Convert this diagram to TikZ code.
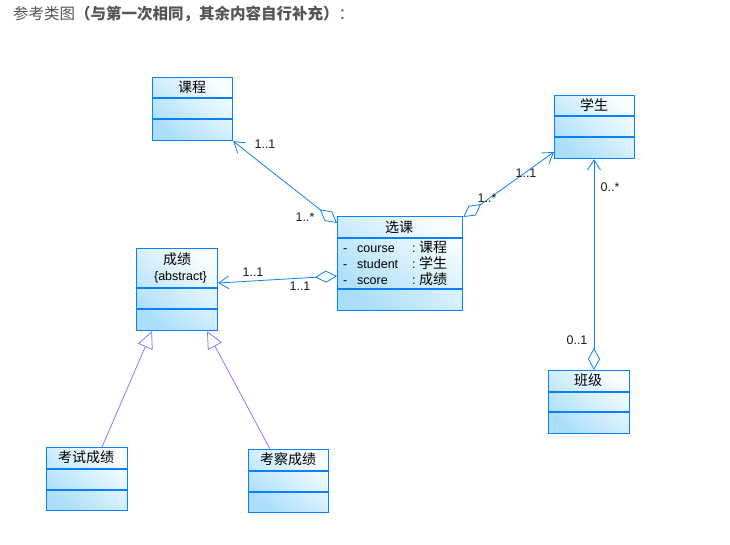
\documentclass[tikz,border=0pt]{standalone}
\usepackage{fontspec}
\setmainfont{Liberation Sans}
\newfontfamily\cjk{Noto Sans CJK SC}
\usetikzlibrary{arrows.meta}
\definecolor{bd}{HTML}{0A80FF}
\definecolor{fla}{HTML}{F8FDFF}
\definecolor{flb}{HTML}{AADEFA}
\definecolor{gen}{HTML}{8080FF}
\definecolor{lbl}{HTML}{1A1A1A}
\definecolor{ttl}{HTML}{555555}
\begin{document}
\begin{tikzpicture}[x=1pt,y=-1pt,
  cls/.style={draw=bd, line width=1.2pt, left color=fla, right color=flb, shading angle=-40,
    inner sep=0pt, anchor=north west},
  sepline/.style={draw=bd, line width=1.2pt},
  hdr/.style={inner sep=0pt, font=\cjk\fontsize{14}{16}\selectfont, text=black},
  attr/.style={inner sep=0pt, anchor=west, font=\fontsize{12.5}{14}\selectfont, text=black},
  mult/.style={inner sep=0pt, font=\fontsize{12.5}{14}\selectfont, text=lbl},
  assoc/.style={draw=bd, line width=0.8pt},
  genl/.style={draw=gen, line width=0.8pt},
  dia/.tip={Diamond[open, length=22pt, width=12pt, line width=0.8pt]},
  barb/.tip={Straight Barb[length=10pt, width=13pt, line width=0.8pt]},
  tri/.tip={Triangle[open, length=17pt, width=16pt, line width=0.8pt]}]
\useasboundingbox (0,0) rectangle (730,545);
\fill[white] (0,0) rectangle (730,545);

% title
\node[anchor=west, inner sep=0pt, text=ttl, font=\cjk\fontsize{15.5}{17}\selectfont] (title) at (13,14)
  {参考类图\textbf{（与第一次相同，其余内容自行补充）}：};

% classes
\node[cls, minimum width=80pt, minimum height=63pt] (kc) at (152,77) {};
\draw[sepline] ([yshift=-21pt]kc.north west) -- ([yshift=-21pt]kc.north east);
\draw[sepline] ([yshift=-42pt]kc.north west) -- ([yshift=-42pt]kc.north east);
\node[hdr] (kct) at (192,87) {课程};

\node[cls, minimum width=80pt, minimum height=63pt] (xs) at (554,95) {};
\draw[sepline] ([yshift=-21pt]xs.north west) -- ([yshift=-21pt]xs.north east);
\draw[sepline] ([yshift=-42pt]xs.north west) -- ([yshift=-42pt]xs.north east);
\node[hdr] (xst) at (594,105) {学生};

\node[cls, minimum width=125pt, minimum height=94pt] (xk) at (337,216) {};
\draw[sepline] ([yshift=-22pt]xk.north west) -- ([yshift=-22pt]xk.north east);
\draw[sepline] ([yshift=-73pt]xk.north west) -- ([yshift=-73pt]xk.north east);
\node[hdr] (xkt) at (399,227) {选课};
\node[attr] (a1) at (343,247) {\makebox[14pt][l]{-}\makebox[55pt][l]{course}\makebox[7pt][l]{:}{\cjk\fontsize{14}{16}\selectfont 课程}};
\node[attr] (a2) at (343,263) {\makebox[14pt][l]{-}\makebox[55pt][l]{student}\makebox[7pt][l]{:}{\cjk\fontsize{14}{16}\selectfont 学生}};
\node[attr] (a3) at (343,279) {\makebox[14pt][l]{-}\makebox[55pt][l]{score}\makebox[7pt][l]{:}{\cjk\fontsize{14}{16}\selectfont 成绩}};

\node[cls, minimum width=81pt, minimum height=82pt] (cj) at (136,248) {};
\draw[sepline] ([yshift=-40pt]cj.north west) -- ([yshift=-40pt]cj.north east);
\draw[sepline] ([yshift=-61pt]cj.north west) -- ([yshift=-61pt]cj.north east);
\node[hdr] (cjt) at (177,259) {成绩};
\node[inner sep=0pt, font=\fontsize{12.5}{14}\selectfont] (abs) at (180.5,277) {\{abstract\}};

\node[cls, minimum width=81pt, minimum height=63pt] (bj) at (548,370) {};
\draw[sepline] ([yshift=-22pt]bj.north west) -- ([yshift=-22pt]bj.north east);
\draw[sepline] ([yshift=-42pt]bj.north west) -- ([yshift=-42pt]bj.north east);
\node[hdr] (bjt) at (588,380) {班级};

\node[cls, minimum width=81pt, minimum height=63pt] (ks) at (46,447) {};
\draw[sepline] ([yshift=-22pt]ks.north west) -- ([yshift=-22pt]ks.north east);
\draw[sepline] ([yshift=-43pt]ks.north west) -- ([yshift=-43pt]ks.north east);
\node[hdr] (kst) at (86,457) {考试成绩};

\node[cls, minimum width=80pt, minimum height=63pt] (kcj) at (248,449) {};
\draw[sepline] ([yshift=-22pt]kcj.north west) -- ([yshift=-22pt]kcj.north east);
\draw[sepline] ([yshift=-43pt]kcj.north west) -- ([yshift=-43pt]kcj.north east);
\node[hdr] (kcjt) at (288,459) {考察成绩};

% associations
\draw[assoc, {dia}-{barb}] ([yshift=-7pt]xk.north west) -- (kc.south east);
\draw[assoc, {dia}-{barb}] ([yshift=-1pt]xk.north east) -- ([yshift=-57pt]xs.north west);
\draw[assoc, {dia}-{barb}] ([yshift=-60pt]xk.north west) -- ([yshift=-35pt]cj.north east);
\draw[assoc, {dia}-{barb}] ([xshift=46pt]bj.north west) -- ([xshift=40pt]xs.south west);

% generalizations
\draw[genl, -{tri}] ([xshift=56pt]ks.north west) -- ([xshift=16pt]cj.south west);
\draw[genl, -{tri}] ([xshift=22pt]kcj.north west) -- ([xshift=71pt]cj.south west);

% multiplicities
\node[mult] (m1) at (265,144) {1..1};
\node[mult] (m2) at (305,217) {1..*};
\node[mult] (m3) at (487,198) {1..*};
\node[mult] (m4) at (526,173) {1..1};
\node[mult] (m5) at (253,272) {1..1};
\node[mult] (m6) at (300,286) {1..1};
\node[mult] (m7) at (610,187) {0..*};
\node[mult] (m8) at (577,340) {0..1};
\end{tikzpicture}
\end{document}
